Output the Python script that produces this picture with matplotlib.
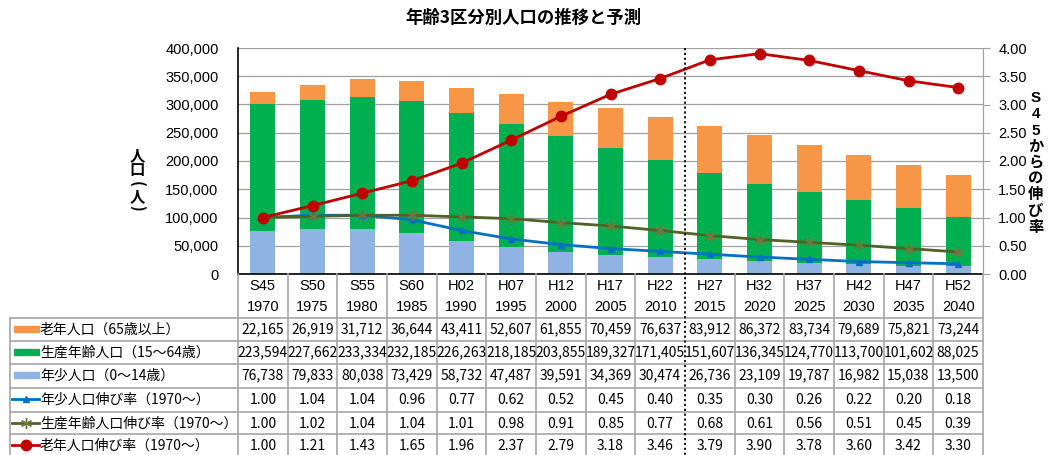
import numpy as np
import matplotlib
matplotlib.use("Agg")
import matplotlib.pyplot as plt
from matplotlib.patches import Rectangle

plt.rcParams['font.family'] = ['Liberation Sans', 'Noto Sans CJK JP', 'DejaVu Sans']

# データ
wareki = ['S45', 'S50', 'S55', 'S60', 'H02', 'H07', 'H12', 'H17', 'H22',
          'H27', 'H32', 'H37', 'H42', 'H47', 'H52']
years = ['1970', '1975', '1980', '1985', '1990', '1995', '2000', '2005', '2010',
         '2015', '2020', '2025', '2030', '2035', '2040']
elderly = [22165, 26919, 31712, 36644, 43411, 52607, 61855, 70459, 76637,
           83912, 86372, 83734, 79689, 75821, 73244]
working = [223594, 227662, 233334, 232185, 226263, 218185, 203855, 189327, 171405,
           151607, 136345, 124770, 113700, 101602, 88025]
young = [76738, 79833, 80038, 73429, 58732, 47487, 39591, 34369, 30474,
         26736, 23109, 19787, 16982, 15038, 13500]
young_rate = [1.00, 1.04, 1.04, 0.96, 0.77, 0.62, 0.52, 0.45, 0.40,
              0.35, 0.30, 0.26, 0.22, 0.20, 0.18]
working_rate = [1.00, 1.02, 1.04, 1.04, 1.01, 0.98, 0.91, 0.85, 0.77,
                0.68, 0.61, 0.56, 0.51, 0.45, 0.39]
elderly_rate = [1.00, 1.21, 1.43, 1.65, 1.96, 2.37, 2.79, 3.18, 3.46,
                3.79, 3.90, 3.78, 3.60, 3.42, 3.30]

row_labels = ['老年人口（65歳以上）', '生産年齢人口（15～64歳）', '年少人口（0～14歳）',
              '年少人口伸び率（1970～）', '生産年齢人口伸び率（1970～）', '老年人口伸び率（1970～）']

c_old, c_work, c_young = '#F79646', '#00B050', '#8DB4E2'
c_lyoung, c_lwork, c_lold = '#0070C0', '#4F6228', '#C00000'

W, H = 1049, 455
fig = plt.figure(figsize=(W / 100, H / 100), dpi=100)

# プロット領域（ピクセル）
x0, x1, yt, yb = 238, 983, 48, 274
ax = fig.add_axes([x0 / W, 1 - yb / H, (x1 - x0) / W, (yb - yt) / H])
n = len(wareki)
x = np.arange(n)

ax.bar(x, young, 0.5, color=c_young, zorder=2)
ax.bar(x, working, 0.5, bottom=young, color=c_work, zorder=2)
ax.bar(x, elderly, 0.5, bottom=np.array(young) + np.array(working), color=c_old, zorder=2)
ax.set_xlim(-0.5, n - 0.5)
ax.set_ylim(0, 400000)
ax.set_yticks(np.arange(0, 400001, 50000))
ax.set_yticklabels([f'{v:,}' for v in range(0, 400001, 50000)], fontsize=10.5)
ax.yaxis.grid(True, color='#A0A0A0', linewidth=0.9)
ax.set_axisbelow(True)
ax.set_xticks([])
ax.tick_params(axis='y', length=0, pad=14)
ax.spines['top'].set_visible(False)
ax.spines['right'].set_color('#A0A0A0')
ax.spines['left'].set_linewidth(1.2)
ax.spines['bottom'].set_linewidth(1.2)

ax2 = ax.twinx()
ax2.plot(x, young_rate, color=c_lyoung, lw=2, marker='^', ms=5, zorder=3)
ax2.plot(x, working_rate, color=c_lwork, lw=2, marker=(6, 2, 0), ms=8,
         markeredgecolor='#6B7A3A', markeredgewidth=1, zorder=3)
ax2.plot(x, elderly_rate, color=c_lold, lw=2, marker='o', ms=7.5, zorder=4)
ax2.set_ylim(0, 4)
ax2.set_yticks(np.arange(0, 4.01, 0.5))
ax2.set_yticklabels([f'{v:.2f}' for v in np.arange(0, 4.01, 0.5)], fontsize=10.5)
ax2.tick_params(axis='y', length=5, color='#A0A0A0', pad=6)
for s in ['top', 'left', 'bottom']:
    ax2.spines[s].set_visible(False)
ax2.spines['right'].set_color('#A0A0A0')

# タイトル・軸ラベル
fig.text(523 / W, 1 - 18 / H, '年齢3区分別人口の推移と予測', ha='center', va='center',
         fontsize=12.5, fontweight='bold', family='Noto Sans CJK JP')
# 縦書きの「人口（人）」
ylab_chars = [('人', 0, 155), ('口', 0, 170), ('(', -90, 184), ('人', 0, 196), (')', -90, 208)]
for ch, rot, py in ylab_chars:
    fig.text(137 / W, 1 - py / H, ch, ha='center', va='center', rotation=rot,
             fontsize=11, fontweight='bold', family='Noto Sans CJK JP')
fig.text(1036 / W, 1 - 163 / H, 'S\n4\n5\nか\nら\nの\n伸\nび\n率', ha='center', va='center',
         fontsize=11, fontweight='bold', family=['Liberation Sans', 'Noto Sans CJK JP'],
         linespacing=1.2)

# 表（オーバーレイ）
tb = fig.add_axes([0, 0, 1, 1], zorder=5)
tb.set_xlim(0, W)
tb.set_ylim(H, 0)
tb.axis('off')
tb.patch.set_alpha(0)

cw = (x1 - x0) / n
lab_l = 10
row_top = [318, 341, 364, 388, 412, 434]
row_h = 23.3
gcol = '#A6A6A6'

# 縦線
for i in range(n + 1):
    if i == 9:
        continue
    xx = x0 + i * cw
    tb.plot([xx, xx], [yb, H], color=gcol, lw=1.2)
tb.plot([lab_l, lab_l], [row_top[0], H], color=gcol, lw=1.2)
# 横線
for yy in row_top:
    tb.plot([lab_l, x1], [yy, yy], color=gcol, lw=1.2)

# 予測区切りの点線
tb.plot([x0 + 9 * cw] * 2, [yt, H], color='black', lw=1.3, linestyle=(0, (1.2, 1.5)))

# 見出し
for i in range(n):
    cx = x0 + (i + 0.5) * cw
    tb.text(cx, 286, wareki[i], ha='center', va='center', fontsize=10.5,
            family='Liberation Sans')
    tb.text(cx, 307, years[i], ha='center', va='center', fontsize=10.5,
            family='Liberation Sans')

rows = [
    [f'{v:,}' for v in elderly],
    [f'{v:,}' for v in working],
    [f'{v:,}' for v in young],
    [f'{v:.2f}' for v in young_rate],
    [f'{v:.2f}' for v in working_rate],
    [f'{v:.2f}' for v in elderly_rate],
]
for r, vals in enumerate(rows):
    cy = row_top[r] + row_h / 2
    for i, s in enumerate(vals):
        tb.text(x0 + (i + 0.5) * cw, cy, s, ha='center', va='center', fontsize=10,
                family='Noto Sans CJK JP')
    tb.text(40, cy, row_labels[r], ha='left', va='center', fontsize=10,
            family='Noto Sans CJK JP')

# 凡例マーク
for r, c in enumerate([c_old, c_work, c_young]):
    cy = row_top[r] + row_h / 2
    tb.add_patch(Rectangle((14, cy - 3.5), 25, 6, color=c))
legend_lines = [(c_lyoung, '^', 5, c_lyoung), (c_lwork, (6, 2, 0), 8, '#6B7A3A'),
                (c_lold, 'o', 7.5, c_lold)]
for k, (c, m, ms, mec) in enumerate(legend_lines):
    cy = row_top[3 + k] + row_h / 2 - 1
    tb.plot([12, 39], [cy, cy], color=c, lw=2)
    tb.plot([25.5], [cy], color=c, marker=m, ms=ms, markeredgecolor=mec)

fig.savefig('out.png', dpi=100)
